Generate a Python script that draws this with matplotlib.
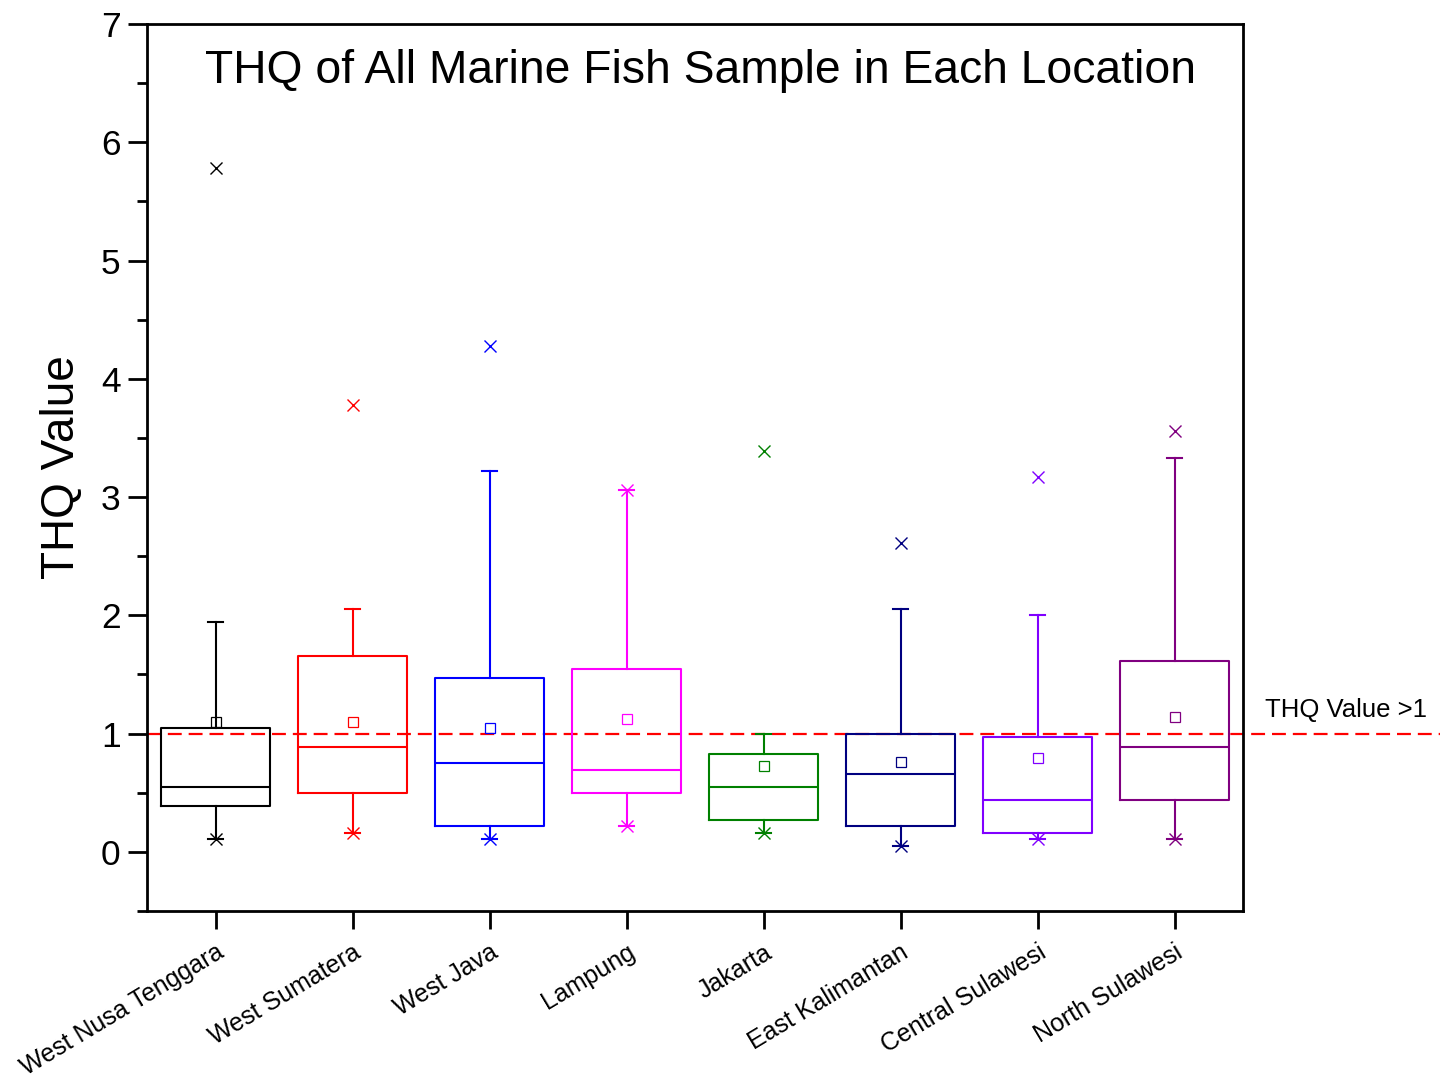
import matplotlib
matplotlib.use("Agg")
import matplotlib.pyplot as plt

plt.rcParams['font.family'] = ['Liberation Sans', 'DejaVu Sans']

locations = ["West Nusa Tenggara", "West Sumatera", "West Java", "Lampung",
             "Jakarta", "East Kalimantan", "Central Sulawesi", "North Sulawesi"]
colors = ["#000000", "#FF0000", "#0000FF", "#FF00FF",
          "#008000", "#000080", "#8000FF", "#800080"]

q1 = [0.39, 0.50, 0.22, 0.50, 0.27, 0.22, 0.16, 0.44]
median = [0.55, 0.89, 0.75, 0.69, 0.55, 0.66, 0.44, 0.89]
q3 = [1.05, 1.66, 1.47, 1.55, 0.83, 1.00, 0.97, 1.61]
whisker_low = [0.11, 0.16, 0.11, 0.22, 0.16, 0.05, 0.11, 0.11]
whisker_high = [1.94, 2.05, 3.22, 3.06, 1.00, 2.05, 2.00, 3.33]
means = [1.10, 1.10, 1.05, 1.12, 0.73, 0.76, 0.79, 1.14]
minimum = [0.11, 0.16, 0.11, 0.22, 0.16, 0.05, 0.11, 0.11]
maximum = [5.78, 3.78, 4.28, 3.06, 3.39, 2.61, 3.17, 3.56]

threshold = 1.0

fig = plt.figure(figsize=(14.47, 10.81), dpi=100)
ax = fig.add_axes([147/1447, 1 - 911/1081, 1096/1447, 887/1081])

positions = list(range(1, len(locations) + 1))

# threshold line (extends past right spine)
lw_d = 1.6
ax.plot([0.5, 9.94], [threshold, threshold], color="#FF0000", lw=lw_d,
        dashes=(10/lw_d, 5/lw_d), clip_on=False, zorder=1)

for i, p in enumerate(positions):
    c = colors[i]
    stats = [dict(med=median[i], q1=q1[i], q3=q3[i],
                  whislo=whisker_low[i], whishi=whisker_high[i],
                  mean=means[i], fliers=[])]
    ax.bxp(stats, positions=[p], widths=0.8, showmeans=True, showfliers=False,
           capwidths=0.11, patch_artist=False,
           boxprops=dict(color=c, lw=1.5),
           medianprops=dict(color=c, lw=1.5),
           whiskerprops=dict(color=c, lw=1.5),
           capprops=dict(color=c, lw=1.5),
           meanprops=dict(marker='s', markerfacecolor='none',
                          markeredgecolor=c, markersize=7, markeredgewidth=0.9),
           manage_ticks=False)
    ax.plot([p], [minimum[i]], marker='x', color=c, markersize=9, mew=1.0, ls='none')
    ax.plot([p], [maximum[i]], marker='x', color=c, markersize=9, mew=1.0, ls='none')

ax.set_xlim(0.5, 8.5)
ax.set_ylim(-0.5, 7)
ax.set_yticks(range(0, 8))
ax.set_yticks([x + 0.5 for x in range(-1, 7)], minor=True)
ax.set_xticks(positions)
ax.set_xticklabels(locations, rotation=31, ha='right', rotation_mode='anchor',
                   fontsize=18)
ax.tick_params(axis='y', which='major', length=14, width=2, labelsize=25.5, pad=5)
ax.tick_params(axis='y', which='minor', length=7, width=2)
ax.tick_params(axis='x', which='major', length=13, width=2, pad=8)
for s in ax.spines.values():
    s.set_linewidth(2)

ax.text(0.505, 0.947, "THQ of All Marine Fish Sample in Each Location",
        transform=ax.transAxes, ha='center', va='center', fontsize=33.3)
fig.text(62/1447, 1 - 467/1081, "THQ Value", rotation=90, ha='center',
         va='center', fontsize=33)
fig.text(1265/1447, 1 - 710/1081, "THQ Value >1", ha='left', va='center',
         fontsize=18.5)

fig.savefig("out.png", dpi=100)
